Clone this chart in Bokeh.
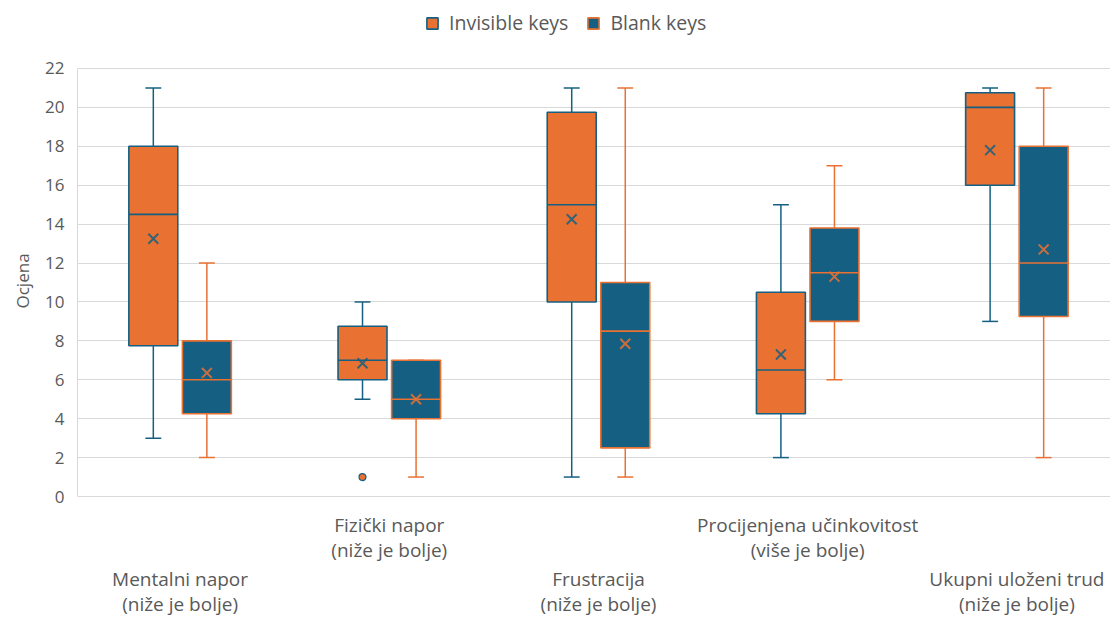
from bokeh.plotting import figure
from bokeh.models import (ColumnDataSource, FixedTicker, LinearAxis, Legend, LegendItem,
                          Range1d, Grid, Title, LabelSet)
from bokeh.core.properties import value
from bokeh.transform import dodge
from bokeh.embed import file_html
from bokeh.resources import INLINE

# ---------------- data ----------------
categories = ["Mentalni napor\n(niže je bolje)",
              "Fizički napor\n(niže je bolje)",
              "Frustracija\n(niže je bolje)",
              "Procijenjena učinkovitost\n(više je bolje)",
              "Ukupni uloženi trud\n(niže je bolje)"]
series = ["Invisible keys", "Blank keys"]
cat_pos = [1, 2, 3, 4, 5]
y_title = "Ocjena"

inv_min = [3, 5, 1, 2, 9]
inv_q1 = [7.75, 6, 10, 4.25, 16]
inv_med = [14.5, 7, 15, 6.5, 20]
inv_q3 = [18, 8.75, 19.75, 10.5, 20.75]
inv_max = [21, 10, 21, 15, 21]
inv_mean = [13.25, 6.85, 14.25, 7.3, 17.8]
inv_out_pos = [2]
inv_out_val = [1]

blank_min = [2, 1, 1, 6, 2]
blank_q1 = [4.25, 4, 2.5, 9, 9.25]
blank_med = [6, 5, 8.5, 11.5, 12]
blank_q3 = [8, 7, 11, 13.8, 18]
blank_max = [12, 7, 21, 17, 21]
blank_mean = [6.35, 5, 7.85, 11.3, 12.7]

y_ticks = list(range(0, 23, 2))

# ---------------- style ----------------
ORANGE = "#E97132"
BLUE = "#156082"
TEXT = "#595959"
GRID = "#D9D9D9"
FONT = "Open Sans"

OFF = 0.128
BOX_W = 0.234
CAP = 0.038

# frame spans the full canvas height; the value axis occupies 0..22 only,
# the space below 0 holds the category labels, the space above 22 the legend
p = figure(width=1110, height=616,
           x_range=Range1d(0.5096, 5.4475), y_range=Range1d(-6.168, 25.495),
           output_backend="svg", toolbar_location=None,
           x_axis_location=None, y_axis_location=None,
           min_border_left=77, min_border_right=0, min_border_top=0, min_border_bottom=0)
p.outline_line_color = None
p.background_fill_color = "white"
p.border_fill_color = "white"
p.xgrid.visible = False
p.ygrid.visible = False

# y axis
yaxis = LinearAxis(ticker=FixedTicker(ticks=y_ticks), bounds=(0, 22))
yaxis.axis_line_color = GRID
yaxis.major_tick_line_color = None
yaxis.minor_tick_line_color = None
yaxis.major_tick_out = 0
yaxis.major_tick_in = 0
yaxis.major_label_text_color = TEXT
yaxis.major_label_text_font = FONT
yaxis.major_label_text_font_size = "17px"
yaxis.major_label_standoff = 13
p.add_layout(yaxis, "left")

p.add_layout(Title(text=y_title, align="left", offset=308, standoff=17,
                   text_font=FONT, text_font_size="17px", text_font_style="normal",
                   text_color=TEXT), "left")

p.add_layout(Grid(dimension=1, ticker=yaxis.ticker, grid_line_color=GRID, grid_line_width=1))

# category labels, staggered in two rows of two lines
line1 = [c.split("\n")[0] for c in categories]
line2 = [c.split("\n")[1] for c in categories]
upper = [i for i in range(5) if cat_pos[i] % 2 == 0]
lower = [i for i in range(5) if cat_pos[i] % 2 == 1]
for idx, (y1, y2) in ((upper, (85, 60)), (lower, (31, 6))):
    for lines, yy in ((line1, y1), (line2, y2)):
        src = ColumnDataSource(dict(x=[cat_pos[i] for i in idx],
                                    y=[yy] * len(idx),
                                    t=[lines[i] for i in idx]))
        p.add_layout(LabelSet(x="x", y="y", y_units="screen", text="t", source=src,
                              text_align="center", text_baseline="alphabetic",
                              text_font=value(FONT), text_font_size="19px",
                              text_color=TEXT))

# ---------------- boxes ----------------
inv = ColumnDataSource(dict(x=cat_pos, lo=inv_min, q1=inv_q1, med=inv_med,
                            q3=inv_q3, hi=inv_max, mean=inv_mean))
blk = ColumnDataSource(dict(x=cat_pos, lo=blank_min, q1=blank_q1, med=blank_med,
                            q3=blank_q3, hi=blank_max, mean=blank_mean))


def draw(src, off, fill, line):
    xr = p.x_range
    p.segment(x0=dodge("x", off, range=xr), y0="q3", x1=dodge("x", off, range=xr), y1="hi",
              source=src, line_color=line, line_width=1.5)
    p.segment(x0=dodge("x", off, range=xr), y0="lo", x1=dodge("x", off, range=xr), y1="q1",
              source=src, line_color=line, line_width=1.5)
    p.segment(x0=dodge("x", off - CAP, range=xr), y0="hi", x1=dodge("x", off + CAP, range=xr), y1="hi",
              source=src, line_color=line, line_width=1.5)
    p.segment(x0=dodge("x", off - CAP, range=xr), y0="lo", x1=dodge("x", off + CAP, range=xr), y1="lo",
              source=src, line_color=line, line_width=1.5)
    box = p.vbar(x=dodge("x", off, range=xr), width=BOX_W, bottom="q1", top="q3", source=src,
                 fill_color=fill, line_color=line, line_width=1.6)
    p.segment(x0=dodge("x", off - BOX_W / 2, range=xr), y0="med",
              x1=dodge("x", off + BOX_W / 2, range=xr), y1="med",
              source=src, line_color=line, line_width=1.6)
    p.scatter(x=dodge("x", off, range=xr), y="mean", source=src, marker="x", size=14,
              line_color=line, line_width=2, line_alpha=0.85)
    return box


inv_box = draw(inv, -OFF, ORANGE, BLUE)
blk_box = draw(blk, OFF, BLUE, ORANGE)

out = ColumnDataSource(dict(x=inv_out_pos, y=inv_out_val))
p.scatter(x=dodge("x", -OFF, range=p.x_range), y="y", source=out, marker="circle", size=7,
          fill_color=ORANGE, line_color=BLUE, line_width=1.2)

legend = Legend(items=[LegendItem(label=series[0], renderers=[inv_box]),
                       LegendItem(label=series[1], renderers=[blk_box])],
                orientation="horizontal", location=(348, 580))
legend.glyph_width = 14
legend.glyph_height = 14
legend.label_text_font = FONT
legend.label_text_font_size = "19.5px"
legend.label_text_color = TEXT
legend.label_standoff = 10
legend.spacing = 18
legend.padding = 0
legend.margin = 0
legend.border_line_color = None
legend.background_fill_alpha = 0
p.add_layout(legend)

open("out.html", "w").write(file_html(p, INLINE))
